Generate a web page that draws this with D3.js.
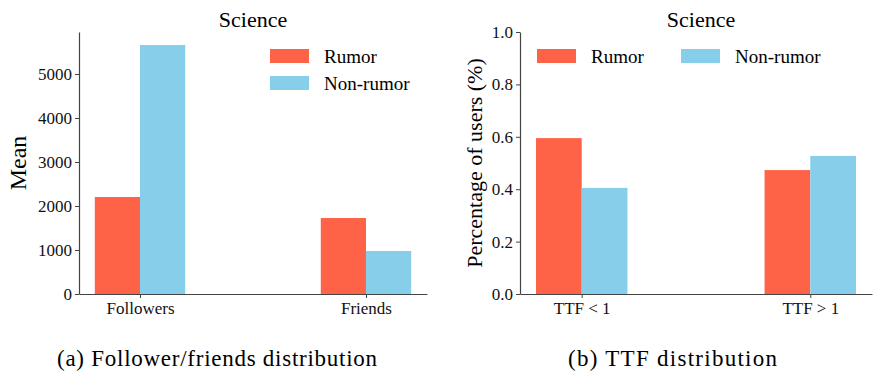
<!DOCTYPE html>
<html>
<head>
<meta charset="utf-8">
<script src="https://cdn.jsdelivr.net/npm/d3@7"></script>
<style>
  body { margin: 0; background: #fff; }
</style>
</head>
<body>
<script>
// Data
const series = ["Rumor", "Non-rumor"];
const colors = ["#ff6347", "#87ceeb"];

const followCats = ["Followers", "Friends"];
const followRumor = [2205, 1727];
const followNonRumor = [5659, 977];
const followTicks = [0, 1000, 2000, 3000, 4000, 5000];

const ttfCats = ["TTF < 1", "TTF > 1"];
const ttfRumor = [0.595, 0.473];
const ttfNonRumor = [0.405, 0.527];
const ttfTicks = [0, 0.2, 0.4, 0.6, 0.8, 1.0];

const serif = "Liberation Serif";

const svg = d3.select("body").append("svg")
    .attr("width", 873)
    .attr("height", 376)
    .attr("font-family", serif)
    .style("font-family", serif);

function drawPanel(opts) {
    const g = svg.append("g");
    const x = d3.scaleLinear().domain([-0.27, 1.27]).range([opts.left, opts.right]);
    const y = d3.scaleLinear().domain(opts.yDomain).range([294, 32]);
    const barW = 0.2;

    // bars
    const vals = [opts.rumor, opts.nonRumor];
    vals.forEach((arr, s) => {
        g.selectAll(null)
            .data(arr)
            .enter().append("rect")
            .attr("x", (d, i) => x(i - barW + s * barW))
            .attr("width", x(barW) - x(0))
            .attr("y", d => y(d))
            .attr("height", d => y(0) - y(d))
            .attr("fill", colors[s]);
    });

    // x axis
    const xg = g.append("g")
        .attr("transform", "translate(0,294)")
        .call(d3.axisBottom(x).tickValues([0, 1]).tickFormat((d, i) => opts.cats[i])
            .tickSizeInner(4).tickSizeOuter(0).tickPadding(4));
    xg.attr("font-family", serif);
    xg.selectAll("text")
        .style("font-family", serif).style("font-size", "17px").attr("fill", "#111");

    // y axis
    const yg = g.append("g")
        .attr("transform", "translate(" + opts.left + ",0)")
        .call(d3.axisLeft(y).tickValues(opts.yTicks).tickFormat(opts.yFormat)
            .tickSizeInner(4).tickSizeOuter(0).tickPadding(3));
    yg.attr("font-family", serif);
    yg.selectAll("text")
        .style("font-family", serif).style("font-size", "17px").attr("fill", "#111");
    g.selectAll("path.domain").attr("stroke", "#444").attr("stroke-width", 1.2);
    g.selectAll(".tick line").attr("stroke", "#444");

    // title
    g.append("text")
        .attr("x", opts.titleX)
        .attr("y", 27)
        .attr("text-anchor", "middle")
        .style("font-family", serif)
        .style("font-size", "22px")
        .text("Science");

    // y label
    g.append("text")
        .attr("transform", "rotate(-90)")
        .attr("x", -163)
        .attr("y", opts.yLabelX)
        .attr("text-anchor", "middle")
        .style("font-family", serif)
        .style("font-size", opts.yLabelSize)
        .text(opts.yLabel);

    // legend
    series.forEach((name, s) => {
        const p = opts.legend[s];
        g.append("rect")
            .attr("x", p[0]).attr("y", p[1])
            .attr("width", 39).attr("height", 14)
            .attr("fill", colors[s]);
        g.append("text")
            .attr("x", p[0] + 54).attr("y", p[1] + 14)
            .style("font-family", serif)
            .style("font-size", "19px")
            .text(name);
    });

    // caption
    g.append("text")
        .attr("x", opts.captionX)
        .attr("y", 366)
        .style("font-family", serif)
        .style("font-size", "23px")
        .attr("textLength", opts.captionW)
        .attr("lengthAdjust", "spacing")
        .text(opts.caption);
}

drawPanel({
    left: 79, right: 427,
    cats: followCats, rumor: followRumor, nonRumor: followNonRumor,
    yDomain: [0, 5955], yTicks: followTicks, yFormat: d3.format("d"),
    titleX: 253, yLabel: "Mean", yLabelX: 26, yLabelSize: "24px",
    legend: [[270, 49], [270, 76]],
    caption: "(a) Follower/friends distribution", captionX: 57, captionW: 320
});

drawPanel({
    left: 520, right: 872,
    cats: ttfCats, rumor: ttfRumor, nonRumor: ttfNonRumor,
    yDomain: [0, 1], yTicks: ttfTicks, yFormat: d3.format(".1f"),
    titleX: 701, yLabel: "Percentage of users (%)", yLabelX: 482, yLabelSize: "22px",
    legend: [[537, 49], [681, 49]],
    caption: "(b) TTF distribution", captionX: 568, captionW: 209
});
</script>
</body>
</html>
